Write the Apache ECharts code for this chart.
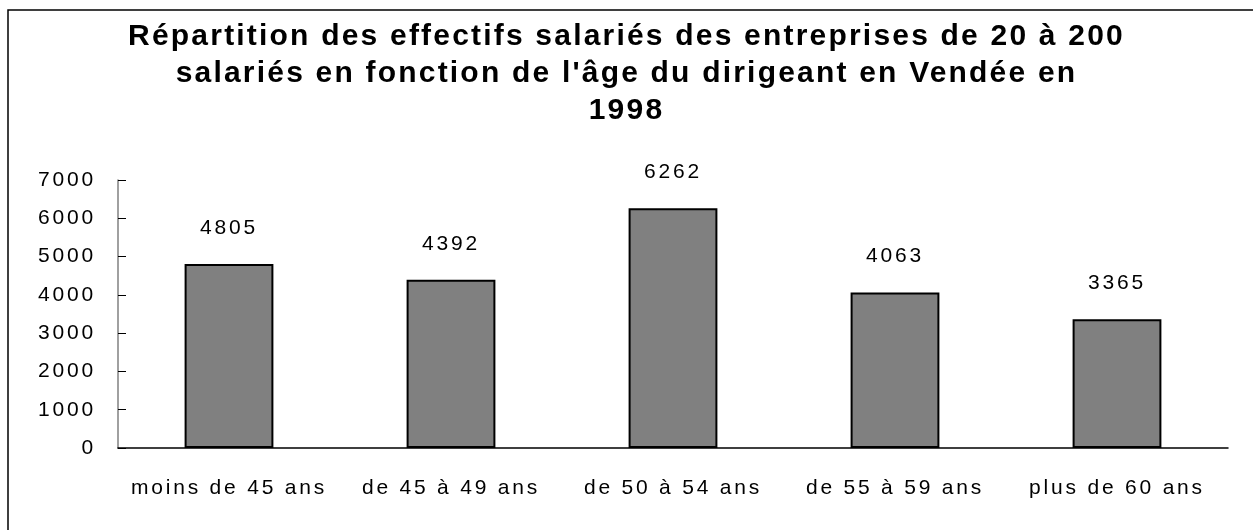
<!DOCTYPE html>
<html>
<head>
<meta charset="utf-8">
<script src="https://cdn.jsdelivr.net/npm/echarts@6/dist/echarts.min.js"></script>
<style>
  html, body { margin: 0; padding: 0; background: #fff; }
  #main { width: 1253px; height: 530px; }
</style>
</head>
<body>
<div id="main"></div>
<script>
var titleText = "Répartition des effectifs salariés des entreprises de 20 à 200\nsalariés en fonction de l'âge du dirigeant en Vendée en\n1998";
var ageGroups = ['moins de 45 ans', 'de 45 à 49 ans', 'de 50 à 54 ans', 'de 55 à 59 ans', 'plus de 60 ans'];
var effectifs = [4805, 4392, 6262, 4063, 3365];

// the original text is drawn with wide tracking
var proto = CanvasRenderingContext2D.prototype;
var fillOrig = proto.fillText, measureOrig = proto.measureText;
function track(ctx){
	ctx.letterSpacing = /bold/.test(ctx.font) ? '2.2px' : '2.8px';
}
proto.fillText = function(){ track(this); return fillOrig.apply(this, arguments); };
proto.measureText = function(){ track(this); return measureOrig.apply(this, arguments); };

var chart = echarts.init(document.getElementById('main'));

chart.setOption({
	backgroundColor: '#fff',
	animation: false,
	textStyle: { fontFamily: 'Liberation Sans', color: '#000' },
	title: {
		text: titleText,
		left: 'center',
		top: 18,
		padding: [0, 0, 0, 25],
		textStyle: {
			fontFamily: 'Liberation Sans',
			fontSize: 30,
			fontWeight: 'bold',
			color: '#000',
			lineHeight: 37
		}
	},
	graphic: [{
		type: 'rect',
		shape: { x: 8, y: 10, width: 1300, height: 600 },
		style: { fill: 'none', stroke: '#000', lineWidth: 1.5 },
		silent: true
	}],
	grid: { left: 118, right: 25, top: 180, bottom: 82 },
	xAxis: {
		type: 'category',
		data: ageGroups,
		axisLine: { lineStyle: { color: '#000', width: 1.5 } },
		axisTick: { inside: true, length: 7, interval: 0, lineStyle: { color: '#808080' } },
		axisLabel: { fontSize: 21, color: '#000', margin: 28, interval: 0 }
	},
	yAxis: {
		type: 'value',
		min: 0,
		max: 7000,
		interval: 1000,
		splitLine: { show: false },
		axisLine: { show: true, lineStyle: { color: '#808080', width: 1.5 } },
		axisTick: { show: true, inside: true, length: 8, lineStyle: { color: '#000' } },
		axisLabel: {
			fontSize: 21,
			color: '#000',
			margin: 22,
			padding: [0, 0, 7, 0],
			formatter: function(v){ return String(v); }
		}
	},
	series: [{
		type: 'bar',
		data: effectifs,
		barWidth: '40%',
		itemStyle: { color: '#808080', borderColor: '#000', borderWidth: 2 },
		label: {
			show: true,
			position: 'top',
			distance: 24,
			fontSize: 21,
			color: '#000'
		}
	}]
});
</script>
</body>
</html>
